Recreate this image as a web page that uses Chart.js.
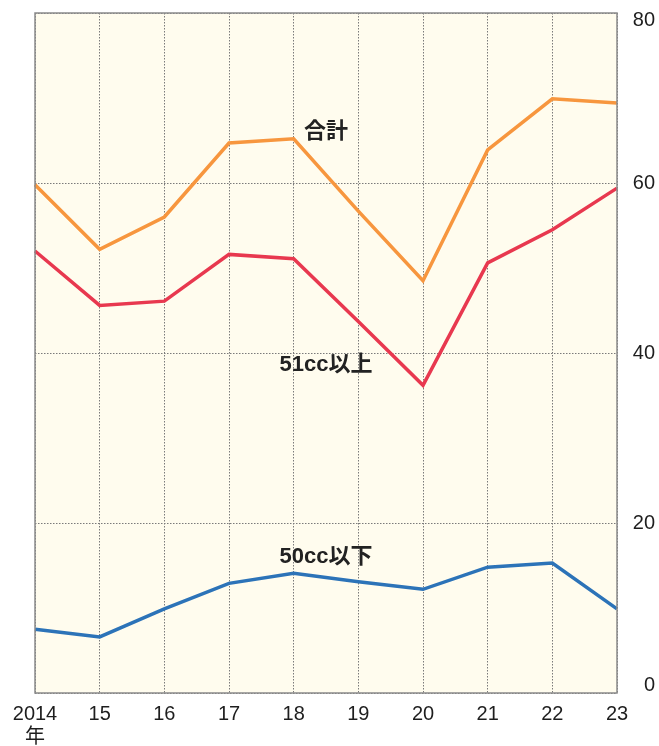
<!DOCTYPE html>
<html lang="ja">
<head>
<meta charset="utf-8">
<title>販売台数の推移</title>
<script src="https://cdn.jsdelivr.net/npm/chart.js@4.4.1/dist/chart.umd.min.js"></script>
<style>
    html, body { margin: 0; padding: 0; background: #fff; }
    canvas { display: block; }
</style>
</head>
<body>
<canvas id="line" width="659" height="746"></canvas>
<script>
// years on the x axis, first one carries the 年 unit on a second line
var years = [["2014", "年"], "15", "16", "17", "18", "19", "20", "21", "22", "23"];
// 合計
var totalUnits = [59.8, 52.2, 56.0, 64.7, 65.2, 56.7, 48.5, 63.9, 69.9, 69.4];
// 51cc以上
var over51cc = [52.0, 45.6, 46.1, 51.6, 51.1, 43.7, 36.2, 50.6, 54.5, 59.4];
// 50cc以下
var under50cc = [7.5, 6.6, 9.9, 12.9, 14.1, 13.1, 12.2, 14.8, 15.3, 9.9];
var yMin = 0, yMax = 80, yStep = 20;

!function() {
    "use strict";

    var FONT = '"Liberation Sans", "Noto Sans CJK JP", sans-serif';

    // cream plot background + grey frame
    var framePlugin = {
        id: 'frame',
        beforeDraw: function(chart) {
            var a = chart.chartArea, ctx = chart.ctx;
            ctx.save();
            ctx.fillStyle = '#fffcee';
            ctx.fillRect(a.left, a.top, a.right - a.left, a.bottom - a.top);
            ctx.restore();
        },
        afterDraw: function(chart) {
            var a = chart.chartArea, ctx = chart.ctx;
            ctx.save();
            ctx.strokeStyle = '#8a8a8a';
            ctx.lineWidth = 1.5;
            ctx.strokeRect(a.left, a.top, a.right - a.left, a.bottom - a.top);
            ctx.restore();
        }
    };

    // series names written inside the plot
    var seriesLabels = {
        id: 'seriesLabels',
        afterDatasetsDraw: function(chart) {
            var x = chart.scales.x, y = chart.scales.y, ctx = chart.ctx;
            var items = [["合計", 66], ["51cc以上", 38.6], ["50cc以下", 16]];
            ctx.save();
            ctx.font = 'bold 22px ' + FONT;
            ctx.fillStyle = '#222';
            ctx.textAlign = 'center';
            ctx.textBaseline = 'middle';
            items.forEach(function(it) {
                ctx.fillText(it[0], x.getPixelForValue(4.5), y.getPixelForValue(it[1]));
            });
            ctx.restore();
        }
    };

    var LineChart = function() {};

    LineChart.prototype.init = function() {
        var ctx = document.getElementById('line').getContext('2d');
        var line = function(label, data, color) {
            return {
                label: label, data: data, borderColor: color, backgroundColor: color,
                borderWidth: 3.5, pointRadius: 0, tension: 0, fill: false
            };
        };
        new Chart(ctx, {
            type: 'line',
            data: {
                labels: years,
                datasets: [
                    line('合計', totalUnits, '#f7963e'),
                    line('51cc以上', over51cc, '#e8384f'),
                    line('50cc以下', under50cc, '#2c73b8')
                ]
            },
            options: {
                responsive: false,
                animation: false,
                layout: { padding: { top: 13, right: 4, left: 35, bottom: 0 } },
                plugins: { legend: { display: false }, tooltip: { enabled: false } },
                scales: {
                    x: {
                        afterFit: function(s) { s.height = 53; },
                        grid: { color: '#7a7a7a', lineWidth: 1, drawTicks: false },
                        border: { display: false, dash: [1.5, 1.5] },
                        ticks: {
                            color: '#1e1e1e', padding: 10, maxRotation: 0, autoSkip: false,
                            font: { family: FONT, size: 20, lineHeight: 1.15 }
                        }
                    },
                    y: {
                        position: 'right',
                        min: yMin, max: yMax,
                        afterFit: function(s) {
                            s.width = 38;
                            s.paddingTop = 0;
                            s.paddingBottom = 0;
                        },
                        grid: { color: '#7a7a7a', lineWidth: 1, drawTicks: false },
                        border: { display: false, dash: [1.5, 1.5] },
                        ticks: {
                            stepSize: yStep, color: '#1e1e1e', padding: 15, crossAlign: 'far',
                            font: { family: FONT, size: 20, lineHeight: 0.75 },
                            // end labels sit inside the frame, like the original
                            callback: function(v) {
                                if (v === yMax) return ['', String(v)];
                                if (v === yMin) return [String(v), ''];
                                return String(v);
                            }
                        }
                    }
                }
            },
            plugins: [framePlugin, seriesLabels]
        });
    };

    window.lineChart = new LineChart();
}();

window.lineChart.init();
</script>
</body>
</html>
